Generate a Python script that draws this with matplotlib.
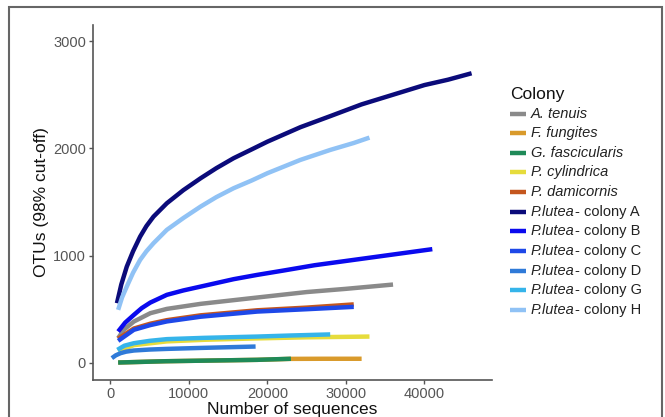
import matplotlib
matplotlib.use("Agg")
import matplotlib.pyplot as plt
from matplotlib.lines import Line2D
from matplotlib.patches import Rectangle
from matplotlib.offsetbox import (DrawingArea, TextArea, HPacker, VPacker,
                                  AnchoredOffsetbox)

plt.rcParams['font.family'] = ['Liberation Sans', 'DejaVu Sans']

# ---- data ----
species = ["A. tenuis", "F. fungites", "G. fascicularis", "P. cylindrica", "P. damicornis",
           "P.lutea", "P.lutea", "P.lutea", "P.lutea", "P.lutea", "P.lutea"]
suffix = ["", "", "", "", "",
          "- colony A", "- colony B", "- colony C", "- colony D", "- colony G", "- colony H"]
colors = ["#8a8a8a", "#d99a2b", "#1f8a58", "#e6dc3c", "#c4561e",
          "#0b0b7a", "#0a0aee", "#1e48e8", "#2f7ad8", "#35b4ea", "#90c2f5"]

x_tenuis = [1000, 1700, 3000, 5100, 7200, 11500, 18700, 25000, 30000, 36000]
y_tenuis = [230, 307, 385, 463, 503, 550, 609, 660, 690, 730]
x_fung = [1000, 7000, 18700, 23000, 27000, 32000]
y_fung = [3, 15, 28, 37, 38, 38]
x_fasc = [1000, 7000, 18700, 23000]
y_fasc = [3, 15, 28, 38]
x_cyl = [1000, 3000, 7200, 12000, 18700, 25000, 33000]
y_cyl = [110, 165, 200, 215, 228, 238, 245]
x_dam = [1000, 3000, 5100, 7200, 11500, 18700, 25000, 31000]
y_dam = [225, 320, 365, 398, 443, 490, 515, 545]
x_A = [850, 1400, 2100, 2900, 3800, 4600, 5500, 7200, 9300, 11500, 13500, 15700, 18000,
       20000, 24200, 28000, 32000, 36000, 40000, 43000, 46000]
y_A = [556, 730, 897, 1040, 1177, 1275, 1363, 1488, 1610, 1721, 1815, 1908, 1990,
       2062, 2197, 2300, 2410, 2500, 2590, 2640, 2700]
x_B = [1000, 1900, 3000, 4000, 5100, 7200, 9300, 11500, 15700, 18700, 22000, 26000, 30000,
       35000, 41000]
y_B = [292, 375, 447, 510, 562, 634, 675, 711, 780, 820, 860, 910, 950, 1000, 1060]
x_C = [1000, 3000, 5100, 7200, 11500, 18700, 25000, 31000]
y_C = [205, 308, 352, 386, 430, 478, 500, 522]
x_D = [200, 700, 1300, 2000, 3000, 5000, 7200, 12000, 18500]
y_D = [44, 70, 90, 104, 115, 124, 130, 140, 152]
x_G = [900, 1800, 3000, 5000, 7200, 12000, 18700, 23000, 28000]
y_G = [121, 160, 183, 205, 221, 233, 245, 255, 265]
x_H = [1000, 1500, 2100, 2900, 3800, 4600, 5500, 7200, 9300, 11500, 13500, 15700, 18000,
       20000, 24200, 28000, 31000, 33000]
y_H = [494, 610, 711, 840, 960, 1040, 1115, 1240, 1350, 1457, 1545, 1628, 1700,
       1768, 1892, 1985, 2050, 2100]

xs = [x_tenuis, x_fung, x_fasc, x_cyl, x_dam, x_A, x_B, x_C, x_D, x_G, x_H]
ys = [y_tenuis, y_fung, y_fasc, y_cyl, y_dam, y_A, y_B, y_C, y_D, y_G, y_H]

xticks = [0, 10000, 20000, 30000, 40000]
yticks = [0, 1000, 2000, 3000]

# ---- figure ----
fig = plt.figure(figsize=(6.65, 4.17), dpi=100)
ax = fig.add_axes([93/665, 37/417, (492-93)/665, (380-25)/417])

for x, y, c in zip(xs, ys, colors):
    ax.plot(x, y, color=c, lw=3.2, solid_capstyle='butt', solid_joinstyle='round')

ax.set_xlim(-2200, 48600)
ax.set_ylim(-160, 3150)
ax.set_xticks(xticks)
ax.set_xticklabels([str(v) for v in xticks])
ax.set_yticks(yticks)
ax.set_yticklabels([str(v) for v in yticks])
for s in ['top', 'right']:
    ax.spines[s].set_visible(False)
for s in ['left', 'bottom']:
    ax.spines[s].set_color('#555555')
    ax.spines[s].set_linewidth(1.2)
ax.tick_params(axis='both', colors='#555555', labelcolor='#555555', labelsize=10.5,
               length=3, width=1.0, pad=2)
ax.set_xlabel("Number of sequences", fontsize=12.5, color='#111111', labelpad=1)
ax.set_ylabel("OTUs (98% cut-off)", fontsize=12.5, color='#111111', labelpad=3)

# ---- legend built from offset boxes (mixed italic / upright text) ----
rows = []
for sp, suf, c in zip(species, suffix, colors):
    da = DrawingArea(11.5, 8, 0, 0)
    da.add_artist(Line2D([0, 11.5], [4, 4], color=c, lw=3.2, solid_capstyle='butt'))
    parts = [TextArea(sp, textprops=dict(style='italic', size=10.5, color='#222222'))]
    if suf:
        parts.append(TextArea(suf, textprops=dict(size=10.5, color='#222222')))
    row = HPacker(children=[da, HPacker(children=parts, align='baseline', pad=0, sep=0)],
                  align='center', pad=0, sep=3.5)
    rows.append(row)
entries = VPacker(children=rows, align='left', pad=0, sep=4.05)
title = TextArea("Colony", textprops=dict(size=12.5, color='#111111'))
box = VPacker(children=[title, entries], align='left', pad=0, sep=3.3)
anch = AnchoredOffsetbox(loc='upper left', child=box, pad=0, borderpad=0, frameon=False,
                         bbox_to_anchor=(510/665, 1 - 87/417),
                         bbox_transform=fig.transFigure)
fig.add_artist(anch)

# outer frame
fig.patches.append(Rectangle((9/665, -0.05), (662-9)/665, 1.05 - 7/417,
                             transform=fig.transFigure, fill=False,
                             edgecolor='#666666', lw=1.5))

fig.savefig("out.png", dpi=100)
